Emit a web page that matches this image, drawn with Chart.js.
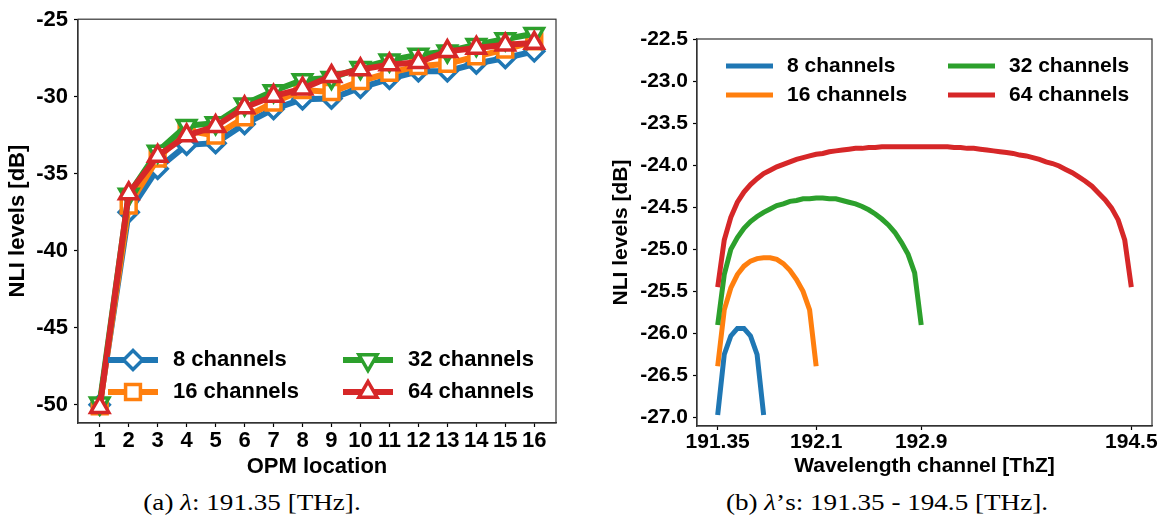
<!DOCTYPE html>
<html>
<head>
<meta charset="utf-8">
<script src="https://cdn.jsdelivr.net/npm/chart.js@4.4.1/dist/chart.umd.min.js"></script>
<style>
    body { margin: 0; background: #fff; width: 1173px; height: 522px; position: relative; overflow: hidden; }
    #grafico_opm { position: absolute; left: 0; top: 0; }
    #grafico_canal { position: absolute; left: 580px; top: 0; }
    .legenda { position: absolute; top: 489px; width: 400px; text-align: center; white-space: nowrap;
               font-family: "Liberation Serif", serif; font-size: 24px; color: #000;
               transform: scaleX(1.13); transform-origin: center; }
</style>
</head>
<body>
<canvas id="grafico_opm" width="570" height="480"></canvas>
<canvas id="grafico_canal" width="593" height="480"></canvas>
<div class="legenda" style="left:52px">(a) <i>λ</i>: 191.35 [THz].</div>
<div class="legenda" style="left:687px">(b) <i>λ</i>’s: 191.35 - 194.5 [THz].</div>

<script>
// Níveis de NLI em cada OPM (canal 191.35 THz)
const opm_local = [1, 2, 3, 4, 5, 6, 7, 8, 9, 10, 11, 12, 13, 14, 15, 16];
const nli_8ch  = [-50.0, -37.49, -34.66, -33.11, -33.0, -31.76, -30.79, -30.15, -30.1, -29.4, -28.82, -28.33, -28.33, -27.83, -27.47, -27.04];
const nli_16ch = [-50.1, -37.06, -34.01, -32.19, -32.51, -31.33, -30.36, -29.55, -29.68, -28.97, -28.43, -28.0, -27.85, -27.36, -26.93, -26.39];
const nli_32ch = [-49.9, -36.33, -33.54, -31.87, -31.70, -30.47, -29.61, -28.9, -28.76, -28.11, -27.62, -27.25, -27.04, -26.61, -26.24, -25.9];
const nli_64ch = [-50.15, -36.27, -33.84, -32.51, -31.91, -30.69, -29.94, -29.46, -28.65, -28.22, -27.9, -27.75, -27.04, -26.82, -26.61, -26.5];
const ticks_opm_y = [-50, -45, -40, -35, -30, -25];

// Grade de canais (50 GHz) e NLI por canal
const grade_freq = [191.35, 191.40, 191.45, 191.50, 191.55, 191.60, 191.65, 191.70, 191.75, 191.80, 191.85, 191.90, 191.95, 192.00, 192.05, 192.10,
                    192.15, 192.20, 192.25, 192.30, 192.35, 192.40, 192.45, 192.50, 192.55, 192.60, 192.65, 192.70, 192.75, 192.80, 192.85, 192.90,
                    192.95, 193.00, 193.05, 193.10, 193.15, 193.20, 193.25, 193.30, 193.35, 193.40, 193.45, 193.50, 193.55, 193.60, 193.65, 193.70,
                    193.75, 193.80, 193.85, 193.90, 193.95, 194.00, 194.05, 194.10, 194.15, 194.20, 194.25, 194.30, 194.35, 194.40, 194.45, 194.50];
const canal_8ch  = [-26.97, -26.25, -26.03, -25.94, -25.94, -26.03, -26.25, -26.97];
const canal_16ch = [-26.39, -25.72, -25.46, -25.30, -25.20, -25.14, -25.11, -25.10, -25.10, -25.12, -25.17, -25.25, -25.36, -25.50, -25.72, -26.39];
const canal_32ch = [-25.90, -25.30, -25.00, -24.86, -24.75, -24.67, -24.61, -24.56, -24.52, -24.48, -24.46, -24.43, -24.42, -24.40, -24.40, -24.39,
                    -24.39, -24.40, -24.40, -24.42, -24.44, -24.46, -24.49, -24.53, -24.58, -24.64, -24.71, -24.80, -24.92, -25.06, -25.28, -25.90];
const canal_64ch = [-25.45, -24.89, -24.62, -24.44, -24.32, -24.23, -24.16, -24.10, -24.06, -24.02, -23.99, -23.96, -23.93, -23.91, -23.89, -23.87,
                    -23.86, -23.84, -23.83, -23.82, -23.81, -23.80, -23.80, -23.79, -23.79, -23.78, -23.78, -23.78, -23.78, -23.78, -23.78, -23.78,
                    -23.78, -23.78, -23.78, -23.78, -23.79, -23.79, -23.80, -23.80, -23.81, -23.82, -23.83, -23.84, -23.85, -23.86, -23.88, -23.89,
                    -23.91, -23.93, -23.96, -23.98, -24.01, -24.05, -24.09, -24.14, -24.19, -24.25, -24.33, -24.41, -24.51, -24.65, -24.89, -25.45];
const ticks_freq = [191.35, 192.1, 192.9, 194.5];
const ticks_canal_y = [-27.0, -26.5, -26.0, -25.5, -25.0, -24.5, -24.0, -23.5, -23.0, -22.5];

const azul = '#1f77b4', laranja = '#ff7f0e', verde = '#2ca02c', vermelho = '#d62728';

function pontos(xs, ys) {
    return ys.map(function(y, i) { return { x: xs[i], y: y }; });
}

// Moldura completa em volta da área do gráfico
const moldura = {
    id: 'moldura',
    afterDraw(chart) {
        const ctx = chart.ctx, a = chart.chartArea;
        ctx.save();
        ctx.strokeStyle = '#333';
        ctx.lineWidth = 1.2;
        ctx.strokeRect(a.left, a.top, a.right - a.left, a.bottom - a.top);
        ctx.restore();
    }
};

// Legenda desenhada dentro da área do gráfico, em duas colunas
const legendaInterna = {
    id: 'legendaInterna',
    afterDatasetsDraw(chart, args, opts) {
        const ctx = chart.ctx;
        ctx.save();
        opts.itens.forEach(function(it) {
            const ds = chart.data.datasets[it.ds];
            ctx.strokeStyle = ds.borderColor;
            ctx.lineWidth = ds.borderWidth;
            ctx.lineCap = 'butt';
            ctx.beginPath();
            ctx.moveTo(it.x, it.y);
            ctx.lineTo(it.x + opts.alca, it.y);
            ctx.stroke();
            if (ds.pointRadius) {
                ctx.fillStyle = ds.pointBackgroundColor;
                ctx.strokeStyle = ds.pointBorderColor;
                ctx.lineWidth = ds.pointBorderWidth;
                Chart.helpers.drawPoint(ctx, {
                    pointStyle: ds.pointStyle,
                    rotation: ds.pointRotation || 0,
                    radius: ds.pointRadius,
                    borderWidth: ds.pointBorderWidth
                }, it.x + opts.alca / 2, it.y);
            }
            ctx.fillStyle = '#000';
            ctx.font = opts.fonte;
            ctx.textBaseline = 'middle';
            ctx.textAlign = 'left';
            ctx.fillText(ds.label, it.x + opts.alca + opts.espaco, it.y);
        });
        ctx.restore();
    }
};

function serie_opm(rotulo, valores, cor, estilo, rot, ordem, raio) {
    return {
        label: rotulo,
        data: pontos(opm_local, valores),
        borderColor: cor,
        borderWidth: 6,
        pointStyle: estilo,
        pointRotation: rot,
        pointRadius: raio,
        pointBorderWidth: 3.5,
        pointBorderColor: cor,
        pointBackgroundColor: '#fff',
        order: ordem,
        tension: 0
    };
}

function serie_canal(rotulo, valores, cor, ordem) {
    return {
        label: rotulo,
        data: pontos(grade_freq, valores),
        borderColor: cor,
        borderWidth: 5,
        pointRadius: 0,
        order: ordem,
        tension: 0
    };
}

const fonte_a = { family: 'Liberation Sans', size: 22, weight: 'bold' };
const fonte_b = { family: 'Liberation Sans', size: 21, weight: 'bold' };

function eixo(fonte, min, max, valores_ticks, formato, titulo, tamanho, vertical, pad_titulo, pad_tick) {
    return {
        type: 'linear',
        min: min,
        max: max,
        afterBuildTicks: function(s) { s.ticks = valores_ticks.map(function(v) { return { value: v }; }); },
        afterFit: function(s) { if (vertical) { s.width = tamanho; } else { s.height = tamanho; } },
        ticks: { font: fonte, color: '#000', padding: pad_tick, autoSkip: false, maxRotation: 0,
                 callback: formato },
        grid: { display: true, drawOnChartArea: false, tickLength: 4, tickColor: '#000', tickWidth: 1.2 },
        border: { display: true, color: '#333', width: 1.2 },
        title: { display: true, text: titulo, font: fonte, color: '#000', padding: pad_titulo }
    };
}

new Chart(document.getElementById('grafico_opm'), {
    type: 'line',
    data: {
        datasets: [
            serie_opm('8 channels', nli_8ch, azul, 'rectRot', 0, 4, 9.5),
            serie_opm('16 channels', nli_16ch, laranja, 'rect', 0, 3, 10.5),
            serie_opm('32 channels', nli_32ch, verde, 'triangle', 180, 2, 10.5),
            serie_opm('64 channels', nli_64ch, vermelho, 'triangle', 0, 1, 10.5)
        ]
    },
    options: {
        responsive: false,
        devicePixelRatio: 1,
        animation: false,
        layout: { padding: { left: 0, top: 16, right: 14, bottom: 0 } },
        scales: {
            x: eixo(fonte_a, 0.25, 16.75, opm_local, function(v) { return String(v); },
                    'OPM location', 57, false, { top: 0, bottom: 0 }, 1),
            y: eixo(fonte_a, -51.18, -24.95, ticks_opm_y, function(v) { return String(v); },
                    'NLI levels [dB]', 78, true, { top: 5, bottom: 0 }, 6)
        },
        plugins: {
            legend: { display: false },
            tooltip: { enabled: false },
            legendaInterna: {
                alca: 50, espaco: 15, fonte: 'bold 22px "Liberation Sans"',
                itens: [ { ds: 0, x: 108, y: 360 }, { ds: 1, x: 108, y: 392 },
                         { ds: 2, x: 343, y: 360 }, { ds: 3, x: 343, y: 392 } ]
            }
        }
    },
    plugins: [legendaInterna, moldura]
});

new Chart(document.getElementById('grafico_canal'), {
    type: 'line',
    data: {
        datasets: [
            serie_canal('8 channels', canal_8ch, azul, 4),
            serie_canal('16 channels', canal_16ch, laranja, 3),
            serie_canal('32 channels', canal_32ch, verde, 2),
            serie_canal('64 channels', canal_64ch, vermelho, 1)
        ]
    },
    options: {
        responsive: false,
        devicePixelRatio: 1,
        animation: false,
        layout: { padding: { left: 0, top: 39, right: 21, bottom: 0 } },
        scales: {
            x: eixo(fonte_b, 191.1925, 194.6575, ticks_freq, function(v) { return String(v); },
                    'Wavelength channel [ThZ]', 54, false, { top: 0, bottom: 1.4 }, 0),
            y: eixo(fonte_b, -27.1, -22.5, ticks_canal_y, function(v) { return v.toFixed(1); },
                    'NLI levels [dB]', 117, true, { top: 29, bottom: 0 }, 5)
        },
        plugins: {
            legend: { display: false },
            tooltip: { enabled: false },
            legendaInterna: {
                alca: 47, espaco: 14, fonte: 'bold 21px "Liberation Sans"',
                itens: [ { ds: 0, x: 146, y: 66 }, { ds: 1, x: 146, y: 95 },
                         { ds: 2, x: 368, y: 66 }, { ds: 3, x: 368, y: 95 } ]
            }
        }
    },
    plugins: [legendaInterna, moldura]
});
</script>
</body>
</html>
